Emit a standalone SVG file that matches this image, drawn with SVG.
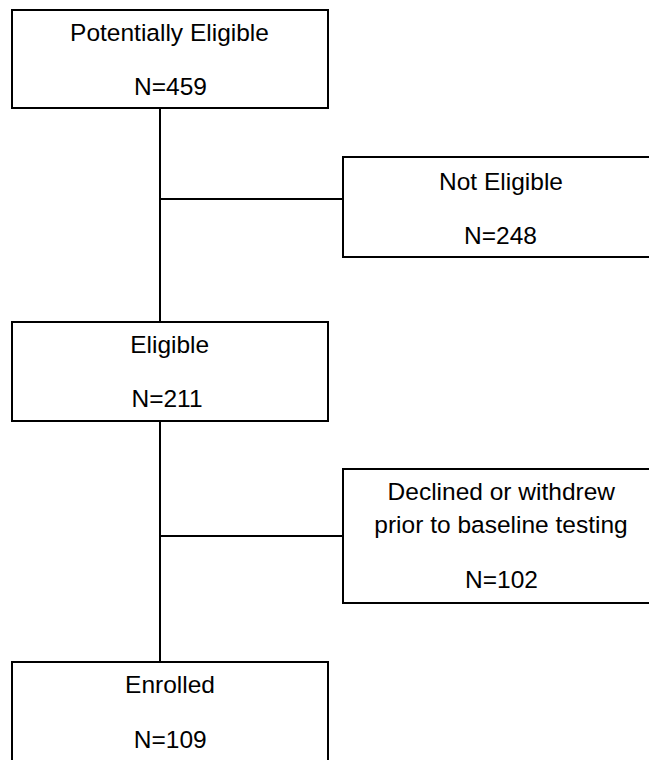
<svg xmlns="http://www.w3.org/2000/svg" width="649" height="760" viewBox="0 0 649 760">
<style>
.box{fill:#fff;stroke:#000;stroke-width:2}
.con{stroke:#000;stroke-width:2;fill:none}
text{font-family:"Liberation Sans",Arial,sans-serif;font-size:24.5px;fill:#000;text-anchor:middle}
</style>
<rect width="649" height="760" fill="#fff"/>
<g id="connectors">
<line class="con" x1="160" y1="108" x2="160" y2="662"/>
<line class="con" x1="160" y1="199" x2="343" y2="199"/>
<line class="con" x1="160" y1="536" x2="343" y2="536"/>
</g>
<g id="potentially-eligible">
<rect class="box" x="12" y="10" width="316" height="98"/>
<text x="169.5" y="40.5">Potentially Eligible</text>
<text x="170.5" y="95">N=459</text>
</g>
<g id="not-eligible">
<rect class="box" x="343" y="157" width="316" height="100"/>
<text x="501" y="190">Not Eligible</text>
<text x="500.5" y="244">N=248</text>
</g>
<g id="eligible">
<rect class="box" x="12" y="322" width="316" height="99"/>
<text x="169.7" y="353.3">Eligible</text>
<text x="167" y="406.7">N=211</text>
</g>
<g id="declined">
<rect class="box" x="343" y="469" width="316" height="134"/>
<text x="501.3" y="500">Declined or withdrew</text>
<text x="501" y="532.7">prior to baseline testing</text>
<text x="501.5" y="587.7">N=102</text>
</g>
<g id="enrolled">
<rect class="box" x="12" y="662" width="316" height="110"/>
<text x="170" y="693.3">Enrolled</text>
<text x="170.3" y="748.3">N=109</text>
</g>
</svg>
